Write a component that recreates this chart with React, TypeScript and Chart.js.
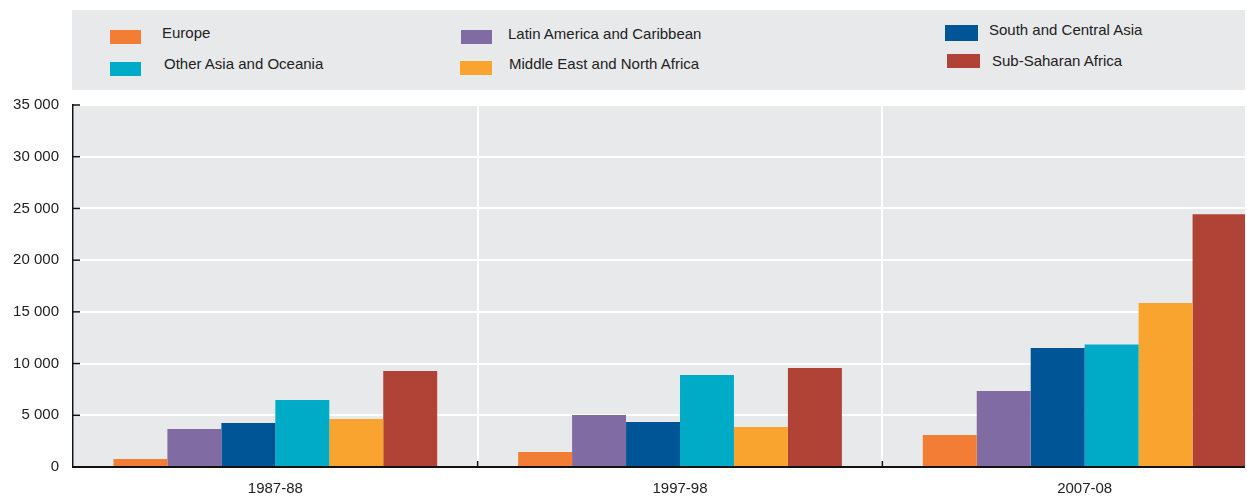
import React, { useEffect, useRef } from "react";
import { Chart, registerables } from "chart.js";

Chart.register(...registerables);

const categories = ["1987-88", "1997-98", "2007-08"];
const seriesNames = [
  "Europe",
  "Latin America and Caribbean",
  "South and Central Asia",
  "Other Asia and Oceania",
  "Middle East and North Africa",
  "Sub-Saharan Africa",
];
const europe = [780, 1450, 3100];
const latinAmerica = [3670, 5030, 7350];
const southCentralAsia = [4250, 4350, 11500];
const otherAsia = [6480, 8900, 11850];
const middleEast = [4640, 3870, 15860];
const subSaharan = [9280, 9570, 24440];
const seriesColors = ["#f47d35", "#816ba3", "#005596", "#00abc7", "#f9a42f", "#b04236"];
const yTicks = [0, 5000, 10000, 15000, 20000, 25000, 30000, 35000];

// legend layout (swatch left/top/width/height, text left, text center y)
const legendLayout = [
  { sx: 110, sy: 30, sw: 31, sh: 14, tx: 162, ty: 33 },
  { sx: 461, sy: 30, sw: 31, sh: 14, tx: 508, ty: 34 },
  { sx: 945, sy: 25, sw: 33, sh: 16, tx: 989, ty: 30 },
  { sx: 110, sy: 62, sw: 31, sh: 14, tx: 164, ty: 64 },
  { sx: 460, sy: 61, sw: 32, sh: 14, tx: 509, ty: 64 },
  { sx: 947, sy: 54, sw: 33, sh: 14, tx: 992, ty: 61 },
];

const FONT = "'Liberation Sans', Arial, sans-serif";
const BG = "#e8e9eb";

const fmt = (v: number) => String(v).replace(/\B(?=(\d{3})+(?!\d))/g, " ");

const bgPlugin = {
  id: "plotBg",
  beforeDraw(chart: any) {
    const { ctx, chartArea } = chart;
    ctx.save();
    ctx.fillStyle = BG;
    ctx.fillRect(chartArea.left, chartArea.top, chartArea.right - chartArea.left, chartArea.bottom - chartArea.top);
    ctx.restore();
  },
  afterDraw(chart: any) {
    const { ctx, chartArea, scales } = chart;
    ctx.save();
    ctx.strokeStyle = "#111";
    ctx.lineWidth = 1.5;
    yTicks.forEach((t) => {
      const y = scales.y.getPixelForValue(t);
      ctx.beginPath();
      ctx.moveTo(chartArea.left, y);
      ctx.lineTo(chartArea.left + 7, y);
      ctx.stroke();
    });
    const n = categories.length;
    const w = (chartArea.right - chartArea.left) / n;
    for (let i = 1; i < n; i++) {
      const x = chartArea.left + w * i;
      ctx.beginPath();
      ctx.moveTo(x, chartArea.bottom);
      ctx.lineTo(x, chartArea.bottom - 6);
      ctx.stroke();
    }
    ctx.restore();
  },
};

export default function App() {
  const ref = useRef<HTMLCanvasElement>(null);
  useEffect(() => {
    const values = [europe, latinAmerica, southCentralAsia, otherAsia, middleEast, subSaharan];
    const chart = new Chart(ref.current!, {
      type: "bar",
      data: {
        labels: categories,
        datasets: seriesNames.map((name, i) => ({
          label: name,
          data: values[i],
          backgroundColor: seriesColors[i],
          borderWidth: 0,
          categoryPercentage: 0.8,
          barPercentage: 1.0,
        })),
      },
      options: {
        animation: false,
        responsive: true,
        maintainAspectRatio: false,
        layout: { padding: { top: 105, bottom: 0, left: 0, right: 3 } },
        plugins: { legend: { display: false }, tooltip: { enabled: false } },
        scales: {
          x: {
            grid: { color: "#ffffff", lineWidth: 2, drawTicks: false, offset: true },
            border: { color: "#111", width: 2, z: 2 },
            ticks: { color: "#222", font: { family: FONT, size: 15 }, padding: 13 },
            afterFit(scale: any) {
              scale.height = 29;
            },
          },
          y: {
            min: 0,
            max: 35000,
            grid: { color: "#ffffff", lineWidth: 2, drawTicks: false },
            border: { color: "#111", width: 1.5, z: 2 },
            ticks: {
              stepSize: 5000,
              color: "#222",
              font: { family: FONT, size: 15 },
              padding: 14,
              callback: (v: any) => fmt(Number(v)),
            },
            afterFit(scale: any) {
              scale.width = 73;
            },
          },
        },
      },
      plugins: [bgPlugin],
    });
    return () => chart.destroy();
  }, []);

  return (
    <div style={{ position: "fixed", left: 0, top: 0, width: 1245, height: 496, overflow: "hidden", background: "#fff" }}>
      <div style={{ position: "absolute", left: 0, top: 0, width: 1290, height: 496 }}>
        <canvas ref={ref} />
      </div>
      <div style={{ position: "absolute", left: 72, top: 10, width: 1173, height: 80, background: BG }} />
      {seriesNames.map((name, i) => {
        const p = legendLayout[i];
        return (
          <React.Fragment key={name}>
            <div style={{ position: "absolute", left: p.sx, top: p.sy, width: p.sw, height: p.sh, background: seriesColors[i] }} />
            <div
              style={{
                position: "absolute",
                left: p.tx,
                top: p.ty - 10,
                height: 20,
                lineHeight: "20px",
                fontFamily: FONT,
                fontSize: 15,
                color: "#222",
                whiteSpace: "nowrap",
              }}
            >
              {name}
            </div>
          </React.Fragment>
        );
      })}
    </div>
  );
}
